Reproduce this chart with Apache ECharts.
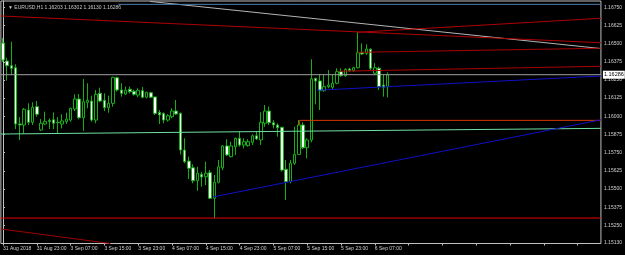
<!DOCTYPE html>
<html><head><meta charset="utf-8">
<script src="https://cdn.jsdelivr.net/npm/echarts@6/dist/echarts.min.js"></script>
<style>html,body{margin:0;padding:0;background:#000}#c{width:625px;height:255px}</style>
</head><body><div id="c"></div>
<script>
// EURUSD H1 bars (31 Aug 2018 15:00 .. 6 Sep 2018 10:00)
const opens = [1.16504,1.16380,1.16348,1.16334,1.15947,1.15940,1.16043,1.15959,1.16066,1.15906,
1.15947,1.15971,1.15976,1.15959,1.15947,1.15963,1.15974,1.16050,1.16119,1.15990,
1.16096,1.16105,1.15974,1.16158,1.16110,1.16059,1.16089,1.16265,1.16181,1.16153,
1.16186,1.16172,1.16146,1.16176,1.16131,1.16162,1.16133,1.16027,1.16020,1.15974,
1.15997,1.16036,1.16020,1.15768,1.15692,1.15646,1.15557,1.15601,1.15584,1.15612,
1.15436,1.15546,1.15646,1.15796,1.15722,1.15791,1.15849,1.15802,1.15798,1.15821,
1.15866,1.15837,1.15952,1.16036,1.15956,1.15940,1.15924,1.15635,1.15550,1.15677,
1.15738,1.15940,1.15784,1.15837,1.16261,1.16243,1.16176,1.16204,1.16199,1.16227,
1.16307,1.16279,1.16325,1.16314,1.16334,1.16440,1.16433,1.16461,1.16296,1.16330,
1.16215,1.16203];
const closes = [1.16387,1.16348,1.16330,1.15947,1.15940,1.16048,1.15959,1.16062,1.16014,1.15952,
1.15965,1.15964,1.15952,1.15956,1.15968,1.15981,1.16055,1.16119,1.15990,1.16100,
1.16110,1.15974,1.16151,1.16105,1.16059,1.16089,1.16268,1.16181,1.16158,1.16179,
1.16169,1.16151,1.16179,1.16131,1.16165,1.16131,1.16020,1.16009,1.15974,1.16004,
1.16036,1.16016,1.15768,1.15688,1.15642,1.15557,1.15608,1.15582,1.15608,1.15436,
1.15546,1.15653,1.15796,1.15734,1.15796,1.15849,1.15802,1.15825,1.15825,1.15866,
1.15844,1.15959,1.16036,1.15956,1.15940,1.15921,1.15630,1.15550,1.15677,1.15738,
1.15940,1.15784,1.15837,1.16257,1.16243,1.16176,1.16204,1.16215,1.16227,1.16307,
1.16279,1.16323,1.16314,1.16334,1.16437,1.16429,1.16463,1.16330,1.16334,1.16204,
1.16199,1.16286];
const lows = [1.16373,1.16245,1.16284,1.15912,1.15837,1.15878,1.15940,1.15940,1.15997,1.15899,
1.15940,1.15912,1.15912,1.15883,1.15917,1.15947,1.15963,1.16036,1.15979,1.15899,
1.16055,1.15963,1.15952,1.16096,1.16036,1.16025,1.16066,1.16169,1.16135,1.16146,
1.16158,1.16142,1.16131,1.16124,1.16124,1.16124,1.16009,1.15947,1.15952,1.15963,
1.15986,1.16009,1.15738,1.15677,1.15569,1.15539,1.15488,1.15516,1.15527,1.15431,
1.15298,1.15539,1.15630,1.15727,1.15718,1.15734,1.15791,1.15780,1.15791,1.15802,
1.15837,1.15802,1.15928,1.15940,1.15917,1.15860,1.15619,1.15424,1.15539,1.15665,
1.15734,1.15775,1.15711,1.15821,1.16082,1.16043,1.16169,1.16193,1.16188,1.16220,
1.16272,1.16272,1.16307,1.16307,1.16330,1.16422,1.16422,1.16318,1.16284,1.16181,
1.16135,1.16130];
const highs = [1.16539,1.16403,1.16513,1.16358,1.15995,1.16057,1.16089,1.16096,1.16105,1.15981,
1.16032,1.15986,1.16027,1.15995,1.16014,1.16025,1.16059,1.16151,1.16153,1.16257,
1.16227,1.16142,1.16181,1.16197,1.16158,1.16142,1.16272,1.16272,1.16227,1.16204,
1.16204,1.16183,1.16193,1.16201,1.16169,1.16169,1.16135,1.16043,1.16027,1.16014,
1.16055,1.16112,1.16027,1.15849,1.15722,1.15670,1.15653,1.15619,1.15688,1.15630,
1.15596,1.15699,1.15802,1.15842,1.15825,1.15853,1.15894,1.15849,1.15842,1.15876,
1.15894,1.16027,1.16078,1.16066,1.15974,1.15952,1.15928,1.15699,1.15699,1.15928,
1.15974,1.15959,1.15849,1.16392,1.16265,1.16289,1.16284,1.16318,1.16284,1.16330,
1.16330,1.16330,1.16334,1.16341,1.16578,1.16502,1.16495,1.16468,1.16365,1.16341,
1.16284,1.16302];
const totalSlots = 142; // bars + empty chart shift on the right
const timeLabels = ['31 Aug 2018','31 Aug 23:00','3 Sep 07:00','3 Sep 15:00','3 Sep 23:00','4 Sep 07:00',
  '4 Sep 15:00','4 Sep 23:00','5 Sep 07:00','5 Sep 15:00','5 Sep 23:00','6 Sep 07:00'];
const labelEvery = 8;
const priceTicks = [1.15130,1.15250,1.15375,1.15500,1.15625,1.15750,1.15875,1.16000,1.16125,1.16250,1.16375,1.16500,1.16625,1.16750];
const priceMin = 1.15125, priceMax = 1.16793;
const currentPrice = 1.16286;
const header = '\u25BC EURUSD,H1 1.16203 1.16302 1.16130 1.16286';
// chart objects: anchors as [bar index, price]
const lineCurrent = [[-0.5,currentPrice],[141.5,currentPrice]];
const lineSilver = [[34.8,1.16790],[141.5,1.16466]];
const lineSteel = [[27.3,1.16770],[141.5,1.16770]];
const lineRedA = [[-0.5,1.16690],[141.5,1.16506]];
const lineRedB = [[84,1.16578],[141.5,1.16674]];
const lineRedC = [[84,1.16440],[141.5,1.16468]];
const lineRedD = [[79.5,1.16310],[141.5,1.16344]];
const lineBlueE = [[74.3,1.16179],[141.5,1.16277]];
const lineOrangeF = [[70.2,1.15940],[70.2,1.15972],[141.5,1.15972]];
const lineGreen = [[-0.5,1.15878],[141.5,1.15917]];
const lineBlueG = [[49.7,1.15445],[141.5,1.15976]];
const lineRedH = [[-0.5,1.15300],[141.5,1.15300]];
const lineRedI = [[-0.5,1.15225],[25.4,1.15125]];

const cats = Array.from({length: totalSlots}, (_, i) => String(i));
const candles = opens.map((o, i) => [o, closes[i], lows[i], highs[i]]);
const FONT = 'Liberation Sans';
function ln(data, color, z) {
  return {type:'line', xAxisIndex:1, yAxisIndex:0, data, symbol:'none', showSymbol:false, silent:true,
    lineStyle:{color, width:1}, z: z||4, animation:false, clip:true};
}
const current = ln(lineCurrent, '#a0a0a0', 3);
current.markPoint = {silent:true, symbol:'rect', symbolSize:[0,0],
  data:[{coord:[141.5, currentPrice]}],
  label:{show:true, position:'right', distance:2, formatter:currentPrice.toFixed(5), backgroundColor:'#ffffff',
    color:'#000', fontSize:5.5, fontFamily:FONT, padding:[1,1]}};
const chart = echarts.init(document.getElementById('c'), null, {renderer:'canvas'});
chart.setOption({
  backgroundColor:'#000',
  animation:false,
  title:{text:header, left:3, top:0, textStyle:{color:'#c8c8c8', fontSize:5, fontWeight:'normal', fontFamily:FONT}},
  grid:{left:0.5, right:22.5, top:1, bottom:11.5, show:true, borderColor:'#c0c0c0', borderWidth:1, backgroundColor:'#000'},
  xAxis:[{
    type:'category', data:cats, boundaryGap:true, axisLine:{show:false},
    axisTick:{show:true, interval:labelEvery-1, alignWithLabel:true, length:2, lineStyle:{color:'#c0c0c0'}},
    axisLabel:{interval:labelEvery-1, align:'left', margin:3, color:'#d0d0d0', fontSize:5, fontFamily:FONT,
      formatter:(v, i) => timeLabels[i / labelEvery] || ''},
    splitLine:{show:false}
  },{
    type:'value', min:-0.5, max:totalSlots-0.5, show:false
  }],
  yAxis:{
    type:'value', position:'right', min:priceMin, max:priceMax, scale:true,
    axisLine:{show:true, lineStyle:{color:'#c0c0c0'}},
    axisTick:{show:true, length:2, customValues:priceTicks, lineStyle:{color:'#c0c0c0'}},
    axisLabel:{customValues:priceTicks, color:'#d0d0d0', fontSize:5, fontFamily:FONT, margin:3,
      formatter:v => v.toFixed(5)},
    splitLine:{show:false}
  },
  series:[
    {type:'candlestick', data:candles, barWidth:3, z:2,
      itemStyle:{color:'#000', color0:'#ffffff', borderColor:'#16b016', borderColor0:'#16b016', borderWidth:1}},
    current,
    ln(lineSilver, '#b4b4b4'),
    ln(lineSteel, '#4a7fb0'),
    ln(lineRedA, '#b00000'),
    ln(lineRedB, '#b00000'),
    ln(lineRedC, '#a80000'),
    ln(lineRedD, '#b00000'),
    ln(lineBlueE, '#1010c8'),
    ln(lineOrangeF, '#d83800'),
    ln(lineGreen, '#6ee0a0'),
    ln(lineBlueG, '#1010c8'),
    ln(lineRedH, '#e80000'),
    ln(lineRedI, '#a00000')
  ]
});
</script></body></html>
